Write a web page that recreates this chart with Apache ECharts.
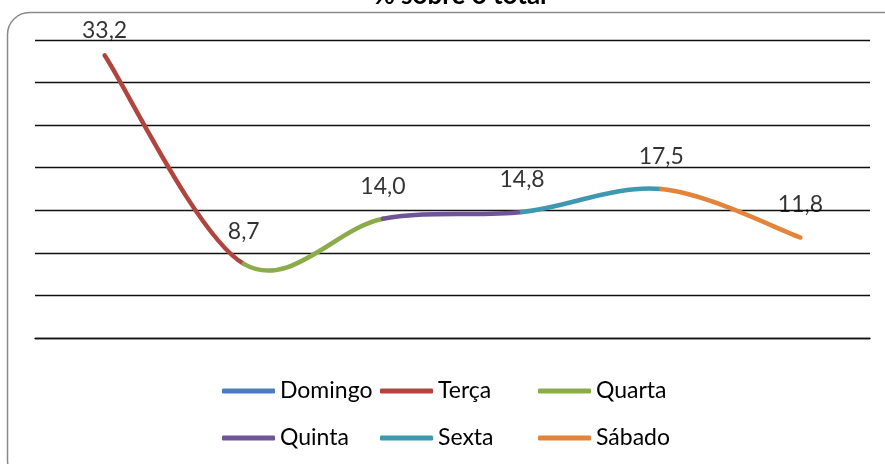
<!DOCTYPE html>
<html>
<head>
<meta charset="utf-8">
<title>% sobre o total</title>
<script src="https://cdn.jsdelivr.net/npm/echarts@6/dist/echarts.min.js"></script>
<style>
html, body { margin: 0; padding: 0; background: #fff; }
#chart { width: 885px; height: 464px; }
</style>
</head>
<body>
<div id="chart"></div>
<script>
var dias = ['Domingo', 'Terça', 'Quarta', 'Quinta', 'Sexta', 'Sábado'];
var valores = [33.2, 8.7, 14.0, 14.8, 17.5, 11.8];
var cores = ['#4a7ebb', '#b0453f', '#8cac4c', '#6f5496', '#3f98b0', '#e3843a'];

var fonte = 'Lato, "Open Sans", sans-serif';

// curva suavizada como no Excel: bezier com tangente (P[i+1]-P[i-1])/6
// cada trecho leva a cor do ponto onde termina
function desenhaTrecho(params, api) {
	var i = params.dataIndex;
	if (i === 0) return null;
	var n = valores.length;
	var p = function (k) {
		k = Math.max(0, Math.min(n - 1, k));
		return api.coord([k, valores[k]]);
	};
	var a = p(i - 1), b = p(i);
	var antes = p(i - 2), depois = p(i + 1);
	if (i - 1 === 0) antes = a;
	if (i === n - 1) depois = b;
	return {
		type: 'bezierCurve',
		shape: {
			x1: a[0], y1: a[1],
			cpx1: a[0] + (b[0] - antes[0]) / 6, cpy1: a[1] + (b[1] - antes[1]) / 6,
			cpx2: b[0] - (depois[0] - a[0]) / 6, cpy2: b[1] - (depois[1] - a[1]) / 6,
			x2: b[0], y2: b[1]
		},
		style: { fill: 'none', stroke: cores[i], lineWidth: 4.5, lineCap: 'round' }
	};
}

var pontos = valores.map(function (v, i) {
	var item = { value: [i, v] };
	if (i === 0) item.label = { distance: 13 };
	return item;
});

// series vazias so para a legenda
var seriesLegenda = dias.map(function (d, i) {
	return { name: d, type: 'line', data: [], color: cores[i], lineStyle: { width: 5 } };
});

function legenda(nomes, x) {
	return {
		orient: 'vertical',
		left: x,
		top: 379,
		padding: 0,
		itemWidth: 53,
		itemHeight: 5,
		itemGap: 23,
		icon: 'roundRect',
		data: nomes,
		textStyle: { fontFamily: fonte, fontSize: 23, color: '#000', lineHeight: 24 }
	};
}

var myChart = echarts.init(document.getElementById('chart'));
var option = {
	animation: false,
	title: {
		text: '% sobre o total',
		left: 455,
		textAlign: 'center',
		top: -22,
		textStyle: { fontFamily: fonte, fontSize: 26, fontWeight: 'bold', color: '#000' }
	},
	graphic: [{
		type: 'rect',
		silent: true,
		shape: { x: 7.5, y: 12.5, width: 900, height: 470, r: 22 },
		style: { fill: 'none', stroke: '#8a8a8a', lineWidth: 1.5 }
	}],
	grid: { left: 35, right: 15, top: 40, bottom: 126 },
	legend: [
		legenda([dias[0], dias[3]], 222),
		legenda([dias[1], dias[4]], 380),
		legenda([dias[2], dias[5]], 538)
	],
	xAxis: {
		type: 'category',
		data: dias,
		boundaryGap: true,
		axisLine: { show: true, lineStyle: { color: '#111', width: 1.4 } },
		axisTick: { show: false },
		axisLabel: { show: false }
	},
	yAxis: {
		type: 'value',
		min: 0,
		max: 35,
		interval: 5,
		axisLine: { show: false },
		axisTick: { show: false },
		axisLabel: { show: false },
		splitLine: { lineStyle: { color: '#111', width: 1.4 } }
	},
	series: [{
		name: '% sobre o total',
		type: 'custom',
		renderItem: desenhaTrecho,
		encode: { x: 0, y: 1 },
		data: pontos.map(function (d) { return d.value; }),
		z: 3
	}, {
		name: 'rotulos',
		type: 'scatter',
		data: pontos,
		symbolSize: 0,
		itemStyle: { color: 'rgba(0,0,0,0)' },
		z: 4,
		label: {
			show: true,
			position: 'top',
			distance: 21,
			fontFamily: fonte,
			fontSize: 23,
			color: '#000',
			formatter: function (p) { return p.value[1].toFixed(1).replace('.', ','); }
		}
	}].concat(seriesLegenda)
};
myChart.setOption(option);
</script>
</body>
</html>
